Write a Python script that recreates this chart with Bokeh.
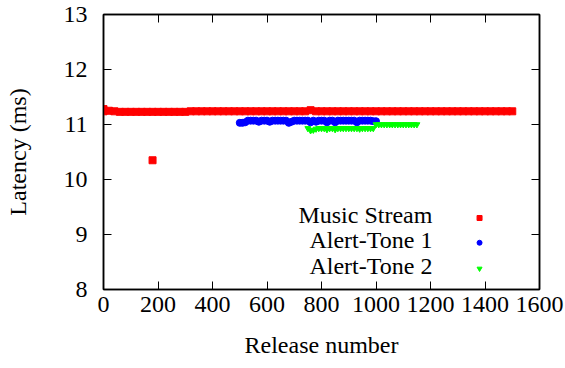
from bokeh.plotting import figure
from bokeh.models import Range1d, LinearAxis, FixedTicker, Label, CustomJSTickFormatter
from bokeh.embed import file_html
from bokeh.resources import INLINE

# ---- data ----
music_x = [0, 20, 40, 60, 80, 100, 120, 140, 160, 180, 200, 220, 240, 260, 280, 300,
           320, 340, 360, 380, 400, 420, 440, 460, 480, 500, 520, 540, 560, 580, 600,
           620, 640, 660, 680, 700, 720, 740, 760, 780, 800, 820, 840, 860, 880, 900,
           920, 940, 960, 980, 1000, 1020, 1040, 1060, 1080, 1100, 1120, 1140, 1160,
           1180, 1200, 1220, 1240, 1260, 1280, 1300, 1320, 1340, 1360, 1380, 1400,
           1420, 1440, 1460, 1480, 1500, 0, 180]
music_y = [11.28, 11.25, 11.24, 11.23, 11.23, 11.23, 11.23, 11.23, 11.23, 11.23, 11.23,
           11.23, 11.23, 11.23, 11.23, 11.23, 11.24, 11.24, 11.24, 11.24, 11.24, 11.24,
           11.24, 11.24, 11.24, 11.24, 11.24, 11.24, 11.24, 11.24, 11.24, 11.24, 11.24,
           11.24, 11.24, 11.24, 11.24, 11.24, 11.26, 11.24, 11.24, 11.24, 11.24, 11.24,
           11.24, 11.24, 11.24, 11.24, 11.24, 11.24, 11.24, 11.24, 11.24, 11.24, 11.24,
           11.24, 11.24, 11.24, 11.24, 11.24, 11.24, 11.24, 11.24, 11.24, 11.24, 11.24,
           11.24, 11.24, 11.24, 11.24, 11.24, 11.24, 11.24, 11.24, 11.24, 11.24, 11.24,
           10.35]

alert1_x = [500, 510, 520, 530, 540, 550, 560, 570, 580, 590, 600, 610, 620, 630, 640,
            650, 660, 670, 680, 690, 700, 710, 720, 730, 740, 750, 760, 770, 780, 790,
            800, 810, 820, 830, 840, 850, 860, 870, 880, 890, 900, 910, 920, 930, 940,
            950, 960, 970, 980, 990, 1000]
alert1_y = [11.03, 11.03, 11.04, 11.07, 11.07, 11.07, 11.07, 11.05, 11.07, 11.07, 11.07,
            11.05, 11.07, 11.07, 11.07, 11.07, 11.07, 11.07, 11.03, 11.05, 11.07, 11.07,
            11.07, 11.07, 11.07, 11.07, 11.04, 11.07, 11.05, 11.07, 11.07, 11.07, 11.04,
            11.07, 11.07, 11.04, 11.07, 11.07, 11.07, 11.07, 11.07, 11.07, 11.07, 11.04,
            11.07, 11.07, 11.07, 11.07, 11.07, 11.06, 11.06]

alert2_x = [750, 760, 770, 780, 790, 800, 810, 820, 830, 840, 850, 860, 870, 880, 890,
            900, 910, 920, 930, 940, 950, 960, 970, 980, 990, 1000, 1010, 1020, 1030,
            1040, 1050, 1060, 1070, 1080, 1090, 1100, 1110, 1120, 1130, 1140, 1150]
alert2_y = [10.93, 10.89, 10.90, 10.92, 10.93, 10.93, 10.93, 10.91, 10.93, 10.93, 10.91,
            10.93, 10.93, 10.93, 10.93, 10.93, 10.93, 10.93, 10.93, 10.92, 10.93, 10.93,
            10.93, 10.93, 10.93, 11.00, 11.00, 11.00, 11.00, 11.00, 11.00, 11.00, 11.00,
            11.00, 11.00, 11.00, 11.00, 11.00, 11.00, 11.00, 11.00]

series_names = ["Music Stream", "Alert-Tone 1", "Alert-Tone 2"]
x_ticks = [0, 200, 400, 600, 800, 1000, 1200, 1400, 1600]
y_ticks = [8, 9, 10, 11, 12, 13]

FONT = "Liberation Serif"
FS = "24px"

p = figure(width=565, height=360, output_backend="svg", toolbar_location=None,
           x_range=Range1d(0, 1600), y_range=Range1d(8, 13),
           min_border_left=103, min_border_right=26, min_border_top=14, min_border_bottom=69,
           x_axis_label="Release number", y_axis_label="Latency (ms)")
p.grid.visible = False
p.outline_line_color = "black"
p.outline_line_width = 1.5
p.background_fill_color = "white"
p.border_fill_color = "white"

for ax in (p.xaxis[0], p.yaxis[0]):
    ax.major_tick_in = 8
    ax.major_tick_out = 0
    ax.minor_tick_in = 0
    ax.minor_tick_out = 0
    ax.axis_line_color = "black"
    ax.axis_line_width = 1.5
    ax.major_tick_line_color = "black"
    ax.major_label_text_font = FONT
    ax.major_label_text_font_size = FS
    ax.major_label_text_color = "black"
    ax.axis_label_text_font = FONT
    ax.axis_label_text_font_size = FS
    ax.axis_label_text_font_style = "normal"
    ax.axis_label_text_color = "black"
p.xaxis[0].ticker = FixedTicker(ticks=x_ticks)
p.yaxis[0].ticker = FixedTicker(ticks=y_ticks)
p.xaxis[0].major_label_standoff = 7
p.xaxis[0].axis_label_standoff = 17
p.yaxis[0].major_label_standoff = 16
p.yaxis[0].axis_label_standoff = 30

# mirrored ticks on top and right (no labels)
blank = CustomJSTickFormatter(code="return ''")
top = LinearAxis(ticker=FixedTicker(ticks=x_ticks), formatter=blank,
                 major_tick_in=8, major_tick_out=0, minor_tick_in=0, minor_tick_out=0,
                 axis_line_width=1.5, major_label_standoff=0)
right = LinearAxis(ticker=FixedTicker(ticks=y_ticks), formatter=blank,
                   major_tick_in=8, major_tick_out=0, minor_tick_in=0, minor_tick_out=0,
                   axis_line_width=1.5, major_label_standoff=0)
p.add_layout(top, "above")
p.add_layout(right, "right")

p.scatter(music_x, music_y, marker="square", size=7, color="red")
p.scatter(alert1_x, alert1_y, marker="circle", size=7, color="blue")
p.scatter(alert2_x, alert2_y, marker="inverted_triangle", size=6, color="#00ff00")

# legend (label text right-aligned, marker to the right)
leg_text_x = 1207
leg_mark_x = 1380
leg_rows = [9.30, 8.85, 8.38]
leg_text_drop = -0.05
leg_markers = ["square", "circle", "inverted_triangle"]
leg_colors = ["red", "blue", "#00ff00"]
for name, yy in zip(series_names, leg_rows):
    p.add_layout(Label(x=leg_text_x, y=yy - leg_text_drop, text=name, text_align="right",
                       text_baseline="alphabetic", text_font=FONT, text_font_size=FS,
                       text_color="black"))
p.scatter([leg_mark_x] * 3, leg_rows, marker=leg_markers, size=5, color=leg_colors)

open("out.html", "w").write(file_html(p, INLINE))
